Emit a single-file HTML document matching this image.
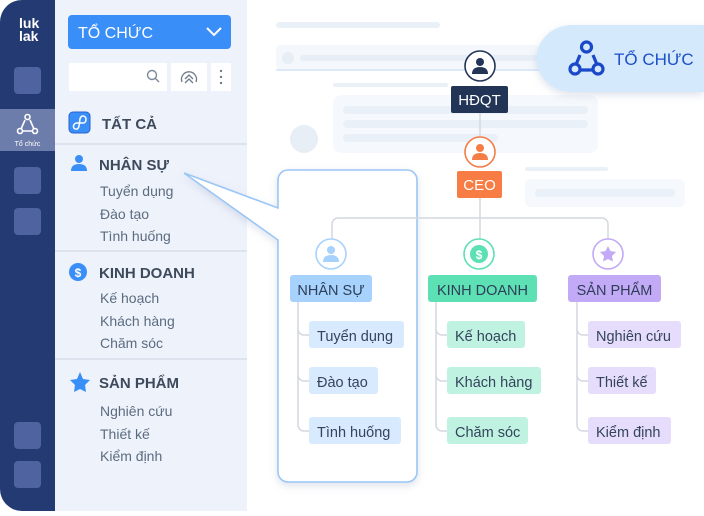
<!DOCTYPE html>
<html><head><meta charset="utf-8"><style>
body{margin:0;width:704px;height:511px;overflow:hidden;background:#fff;font-family:"Liberation Sans","DejaVu Sans",sans-serif}
svg text{font-family:"Liberation Sans","DejaVu Sans",sans-serif}
</style></head><body>
<svg width="704" height="511" viewBox="0 0 704 511" xmlns="http://www.w3.org/2000/svg">
<defs>
<filter id="sh" x="-20%" y="-20%" width="140%" height="140%"><feDropShadow dx="0" dy="3" stdDeviation="4" flood-color="#7a8db0" flood-opacity="0.25"/></filter>
</defs>
<!-- main placeholders -->
<rect x="276" y="22" width="164" height="6" rx="3" fill="#eaf0f8"/>
<rect x="276" y="45" width="264" height="25" rx="5" fill="#f4f7fb"/>
<rect x="276" y="69" width="264" height="2" fill="#dde8f8"/>
<circle cx="288" cy="58" r="6" fill="#e8eef6"/>
<rect x="300" y="55" width="230" height="6" rx="3" fill="#e8eef6"/>
<rect x="500" y="55" width="40" height="6" rx="3" fill="#e8eef6"/>
<rect x="333" y="83" width="115" height="4" rx="2" fill="#eaf0f8"/>
<rect x="333" y="95" width="265" height="58" rx="8" fill="#f5f8fc"/>
<rect x="343" y="106" width="245" height="8" rx="4" fill="#eaf0f8"/>
<rect x="343" y="120" width="245" height="8" rx="4" fill="#eaf0f8"/>
<rect x="343" y="134" width="155" height="8" rx="4" fill="#eaf0f8"/>
<circle cx="304" cy="139" r="14" fill="#e8eef6"/>
<rect x="525" y="167" width="83" height="4" rx="2" fill="#eaf0f8"/>
<rect x="525" y="179" width="160" height="28" rx="6" fill="#f5f8fc"/>
<rect x="535" y="189" width="140" height="8" rx="4" fill="#eaf0f8"/>
<!-- badge -->
<path d="M704 25 H572 A35 33 0 0 0 572 92 H704 Z" fill="#d5e9fd" filter="url(#sh)"/>
<g fill="none" stroke="#1b48c8" stroke-width="3.2"><path d="M580 55 L575 67 M593 55 L598 67 M579 70 H594"/><circle cx="586.5" cy="47" r="5" fill="#d5e9fd"/><circle cx="575" cy="69" r="5" fill="#d5e9fd"/><circle cx="598" cy="69" r="5" fill="#d5e9fd"/></g>
<text x="614" y="65" font-size="17" fill="#1c4fc9">TỔ CHỨC</text>
<!-- sidebar -->
<path d="M22 0 H56 V511 H22 A22 22 0 0 1 0 489 V22 A22 22 0 0 1 22 0Z" fill="#243a73"/>
<text x="19" y="28" font-size="14" font-weight="bold" fill="#fff">luk</text>
<text x="19" y="41" font-size="14" font-weight="bold" fill="#fff">lak</text>
<rect x="14" y="67" width="27" height="27" rx="4" fill="#4e63a0"/>
<rect x="0" y="109" width="55" height="42" fill="#6d7dab"/>
<g fill="none" stroke="#fff" stroke-width="1.6"><path d="M25 120 L21 129 M30 120 L34 129 M21 131 H34"/><circle cx="27.5" cy="117" r="2.5" fill="#6d7dab"/><circle cx="20" cy="131" r="2.5" fill="#6d7dab"/><circle cx="35" cy="131" r="2.5" fill="#6d7dab"/></g>
<text x="27.5" y="146" font-size="7" fill="#fff" text-anchor="middle">Tổ chức</text>
<rect x="14" y="167" width="27" height="27" rx="4" fill="#4e63a0"/>
<rect x="14" y="208" width="27" height="27" rx="4" fill="#4e63a0"/>
<rect x="14" y="422" width="27" height="27" rx="4" fill="#4e63a0"/>
<rect x="14" y="461" width="27" height="27" rx="4" fill="#4e63a0"/>
<!-- panel -->
<rect x="55" y="0" width="192" height="511" fill="#eef2fb"/>
<rect x="68" y="15" width="163" height="34" rx="4" fill="#3a8ef8"/>
<text x="78" y="38" font-size="16" fill="#fff">TỔ CHỨC</text>
<path d="M207 28 L214 35 L221 28" fill="none" stroke="#fff" stroke-width="2"/>
<rect x="69" y="63" width="98" height="28" fill="#fff"/>
<circle cx="152" cy="75" r="4.5" fill="none" stroke="#7d8a99" stroke-width="1.4"/><path d="M155 78 L159 82" stroke="#7d8a99" stroke-width="1.5"/>
<rect x="171" y="63" width="36" height="28" fill="#fff"/>
<path d="M182 82 A7.5 7.5 0 1 1 196 82" fill="none" stroke="#6d7a88" stroke-width="1.3"/><path d="M185 79 L189 75 L193 79 M185 83 L189 79 L193 83" fill="none" stroke="#6d7a88" stroke-width="1.3"/>
<rect x="211" y="63" width="20" height="28" fill="#fff"/>
<g fill="#6d7a88"><circle cx="221" cy="71" r="1.2"/><circle cx="221" cy="77" r="1.2"/><circle cx="221" cy="83" r="1.2"/></g>
<rect x="69" y="112" width="21" height="21" rx="4" fill="#3a8ef8" stroke="#2a62d0"/>
<path d="M76 129 C72 129 73 123 77 123 H83 C87 123 87 116 83 116 C79 116 80 122 79 126 C78 130 76 129 76 129" fill="none" stroke="#fff" stroke-width="1.5"/>
<text x="102" y="129" font-size="15" font-weight="bold" fill="#3d4a5c">TẤT CẢ</text>
<rect x="55" y="143" width="192" height="2" fill="#dde3ee"/>
<circle cx="79" cy="159" r="4" fill="#3a8ef8"/><path d="M71 171 Q71 164 79 164 Q87 164 87 171 Z" fill="#3a8ef8"/>
<text x="99" y="170" font-size="15" font-weight="bold" fill="#3d4a5c">NHÂN SỰ</text>
<g font-size="14" fill="#5b6c80"><text x="100" y="196">Tuyển dụng</text><text x="100" y="219">Đào tạo</text><text x="100" y="241">Tình huống</text></g>
<rect x="55" y="250" width="192" height="2" fill="#dde3ee"/>
<circle cx="78" cy="272" r="9" fill="#3a8ef8"/><text x="78" y="277" font-size="12" font-weight="bold" fill="#fff" text-anchor="middle">$</text>
<text x="99" y="278" font-size="15" font-weight="bold" fill="#3d4a5c">KINH DOANH</text>
<g font-size="14" fill="#5b6c80"><text x="100" y="303">Kế hoạch</text><text x="100" y="326">Khách hàng</text><text x="100" y="348">Chăm sóc</text></g>
<rect x="55" y="358" width="192" height="2" fill="#dde3ee"/>
<path d="M80 372 L83 379 L90 380 L85 385 L86 392 L80 389 L74 392 L75 385 L70 380 L77 379 Z" fill="#3a8ef8"/>
<text x="99" y="388" font-size="15" font-weight="bold" fill="#3d4a5c">SẢN PHẨM</text>
<g font-size="14" fill="#5b6c80"><text x="100" y="416">Nghiên cứu</text><text x="100" y="439">Thiết kế</text><text x="100" y="461">Kiểm định</text></g>
<!-- highlight box with pointer -->
<path d="M288 170 H407 A10 10 0 0 1 417 180 V472 A10 10 0 0 1 407 482 H288 A10 10 0 0 1 278 472 V240 L184 173 L278 208 V180 A10 10 0 0 1 288 170Z" fill="#fff" stroke="#9cc6f5" stroke-width="1.6" filter="url(#sh)"/>
<!-- connectors -->
<g stroke="#d4d8e0" stroke-width="1.5" fill="none">
<path d="M480 113 V137 M480 198 V239"/>
<path d="M332 239 V224 A6 6 0 0 1 338 218 H602 A6 6 0 0 1 608 224 V239"/>
<path d="M298 302 V425 A6 6 0 0 0 304 431 H309 M298 329 A6 6 0 0 0 304 335 H309 M298 375 A6 6 0 0 0 304 381 H309"/>
<path d="M436 302 V425 A6 6 0 0 0 442 431 H447 M436 329 A6 6 0 0 0 442 335 H447 M436 375 A6 6 0 0 0 442 381 H447"/>
<path d="M577 302 V425 A6 6 0 0 0 583 431 H588 M577 329 A6 6 0 0 0 583 335 H588 M577 375 A6 6 0 0 0 583 381 H588"/>
</g>
<!-- HDQT -->
<circle cx="480" cy="66" r="15" fill="#fff" stroke="#233557" stroke-width="1.6"/>
<circle cx="480" cy="62" r="4" fill="#233557"/><path d="M472 74 Q472 67 480 67 Q488 67 488 74Z" fill="#233557"/>
<rect x="451" y="86" width="57" height="27" rx="2" fill="#233557"/>
<text x="479.5" y="105" font-size="15" fill="#fff" text-anchor="middle">HĐQT</text>
<circle cx="480" cy="152" r="15" fill="#fff" stroke="#f47c45" stroke-width="1.6"/>
<circle cx="480" cy="148" r="4" fill="#f47c45"/><path d="M472 160 Q472 153 480 153 Q488 153 488 160Z" fill="#f47c45"/>
<rect x="457" y="171" width="45" height="27" rx="2" fill="#f77d45"/>
<text x="479.5" y="190" font-size="15" fill="#fff" text-anchor="middle">CEO</text>
<!-- dept circles -->
<circle cx="331" cy="254" r="15" fill="#fff" stroke="#a7d2fd" stroke-width="1.6"/>
<circle cx="331" cy="250" r="4" fill="#a7d2fd"/><path d="M323 262 Q323 255 331 255 Q339 255 339 262Z" fill="#a7d2fd"/>
<circle cx="479" cy="254" r="15" fill="#fff" stroke="#5ce0b4" stroke-width="1.6"/>
<circle cx="479" cy="254" r="9" fill="#5ce0b4"/><text x="479" y="259" font-size="12" font-weight="bold" fill="#fff" text-anchor="middle">$</text>
<circle cx="608" cy="254" r="15" fill="#fff" stroke="#c3aaf7" stroke-width="1.6"/>
<path d="M608 246 L610.5 251 L616 252 L612 256 L613 261.5 L608 259 L603 261.5 L604 256 L600 252 L605.5 251Z" fill="#c3aaf7"/>
<rect x="290" y="275" width="82" height="27" rx="3" fill="#a7d2fd"/>
<text x="331" y="295" font-size="14.5" fill="#2e3e56" text-anchor="middle">NHÂN SỰ</text>
<rect x="428" y="275" width="109" height="27" rx="3" fill="#5ce0b4"/>
<text x="482.5" y="295" font-size="14.5" fill="#2e3e56" text-anchor="middle">KINH DOANH</text>
<rect x="568" y="275" width="93" height="27" rx="3" fill="#c3aaf7"/>
<text x="614.5" y="295" font-size="14.5" fill="#2e3e56" text-anchor="middle">SẢN PHẨM</text>
<!-- children -->
<g font-size="14.5" fill="#34445c">
<rect x="309" y="321" width="95" height="27" rx="3" fill="#d8eafe"/><text x="317" y="341">Tuyển dụng</text>
<rect x="309" y="367" width="69" height="27" rx="3" fill="#d8eafe"/><text x="317" y="387">Đào tạo</text>
<rect x="309" y="417" width="92" height="27" rx="3" fill="#d8eafe"/><text x="317" y="437">Tình huống</text>
<rect x="447" y="321" width="78" height="27" rx="3" fill="#c0f2e1"/><text x="455" y="341">Kế hoạch</text>
<rect x="447" y="367" width="94" height="27" rx="3" fill="#c0f2e1"/><text x="455" y="387">Khách hàng</text>
<rect x="447" y="417" width="81" height="27" rx="3" fill="#c0f2e1"/><text x="455" y="437">Chăm sóc</text>
<rect x="588" y="321" width="93" height="27" rx="3" fill="#e6dcfc"/><text x="596" y="341">Nghiên cứu</text>
<rect x="588" y="367" width="68" height="27" rx="3" fill="#e6dcfc"/><text x="596" y="387">Thiết kế</text>
<rect x="588" y="417" width="83" height="27" rx="3" fill="#e6dcfc"/><text x="596" y="437">Kiểm định</text>
</g>
</svg>
</body></html>
